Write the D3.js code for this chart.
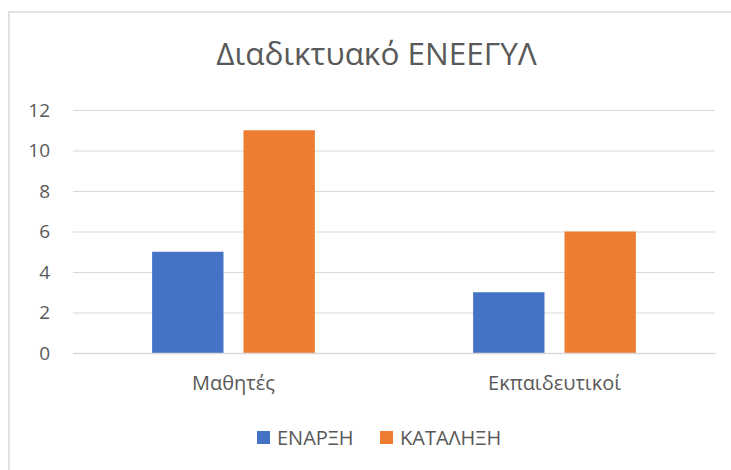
<html lang="el">
<head>
<meta charset="UTF-8">
<title>Διαδικτυακό ΕΝΕΕΓΥΛ</title>
<script src="https://d3js.org/d3.v7.min.js"></script>
<style>
html,body {margin:0;padding:0;background:#fff;}
svg text {font-family:"Open Sans", sans-serif; fill:#595959;}
</style>
</head>
<body>
<div id="chart"></div>
<script>
// data
const categories = ['Μαθητές', 'Εκπαιδευτικοί'];
const seriesNames = ['ΕΝΑΡΞΗ', 'ΚΑΤΑΛΗΞΗ'];
const enarxi = [5, 3];
const katalixi = [11, 6];
const yTicks = [0, 2, 4, 6, 8, 10, 12];
const colors = ['#4472c4', '#ed7d31'];
const title = 'Διαδικτυακό ΕΝΕΕΓΥΛ';

const W = 731, H = 470;
const plot = {left: 73, right: 715, top: 110, bottom: 353};

const svg = d3.select('#chart').append('svg')
	.attr('width', W)
	.attr('height', H);

// chart frame
svg.append('rect')
	.attr('x', 9).attr('y', 12)
	.attr('width', W + 10).attr('height', H + 10)
	.attr('fill', '#fff')
	.attr('stroke', '#d9d9d9')
	.attr('stroke-width', 1.5);

svg.append('text')
	.attr('x', 376.5).attr('y', 65)
	.attr('text-anchor', 'middle')
	.style('font-size', '31.5px')
	.text(title);

let y = d3.scaleLinear().domain([0, 12]).range([plot.bottom, plot.top]);
let x0 = d3.scaleBand().domain(categories).range([plot.left, plot.right]);
let x1 = d3.scaleBand().domain(seriesNames).range([0, x0.bandwidth()])
	.paddingInner(0.219).paddingOuter(0.866);

// gridlines + labels
let yAxis = d3.axisLeft(y)
	.tickValues(yTicks)
	.tickSize(-(plot.right - plot.left))
	.tickPadding(23);

let gY = svg.append('g')
	.attr('transform', 'translate(' + plot.left + ',0)')
	.call(yAxis);
gY.select('.domain').remove();
gY.selectAll('line').attr('stroke', '#d9d9d9').attr('stroke-width', 1);
gY.selectAll('text').style('font-size', '19px').attr('fill', '#595959');

// bars
let rows = categories.map((c, i) => ({cat: c, vals: [enarxi[i], katalixi[i]]}));
let groups = svg.append('g').selectAll('g')
	.data(rows).enter().append('g')
	.attr('transform', d => 'translate(' + x0(d.cat) + ',0)');

groups.selectAll('rect')
	.data(d => d.vals.map((v, j) => ({name: seriesNames[j], v: v, j: j})))
	.enter().append('rect')
	.attr('x', d => x1(d.name))
	.attr('width', x1.bandwidth())
	.attr('y', d => y(d.v))
	.attr('height', d => y(0) - y(d.v))
	.attr('fill', d => colors[d.j]);

// category axis
let xAxis = d3.axisBottom(x0).tickSize(0).tickPadding(23);
let gX = svg.append('g')
	.attr('transform', 'translate(0,' + plot.bottom + ')')
	.call(xAxis);
gX.select('.domain').attr('stroke', '#d9d9d9').attr('stroke-width', 1.5);
gX.selectAll('text').style('font-size', '20px').attr('fill', '#595959');

// legend
let legX = [257, 380];
let leg = svg.append('g').selectAll('g')
	.data(seriesNames).enter().append('g')
	.attr('transform', (d, i) => 'translate(' + legX[i] + ',431)');
leg.append('rect')
	.attr('width', 13).attr('height', 13)
	.attr('fill', (d, i) => colors[i]);
leg.append('text')
	.attr('x', 20).attr('y', 13.5)
	.style('font-size', '20px')
	.text(d => d);
</script>
</body>
</html>
